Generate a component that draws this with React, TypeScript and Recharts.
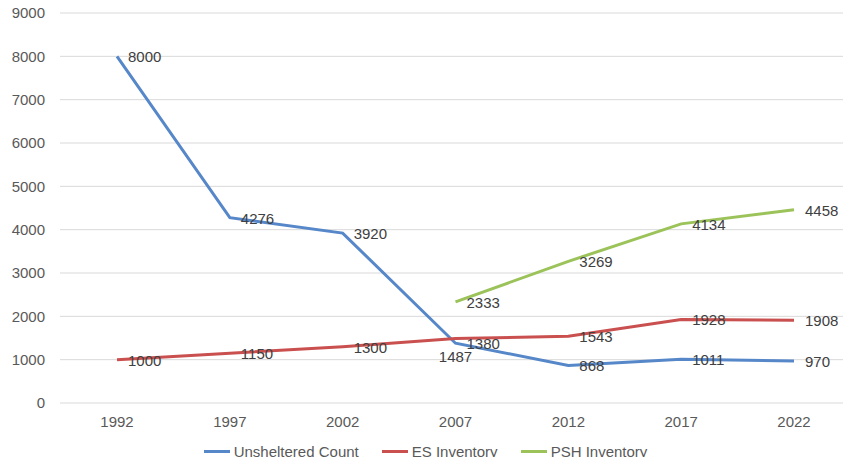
import { CartesianGrid, LabelList, Line, LineChart, XAxis, YAxis } from "recharts";

const years = ["1992", "1997", "2002", "2007", "2012", "2017", "2022"];
const unsheltered = [8000, 4276, 3920, 1380, 868, 1011, 970];
const esInventory = [1000, 1150, 1300, 1487, 1543, 1928, 1908];
const pshInventory = [null, null, null, 2333, 3269, 4134, 4458];
const yTicks = [0, 1000, 2000, 3000, 4000, 5000, 6000, 7000, 8000, 9000];

const series = [
  { key: "unsheltered", name: "Unsheltered Count", color: "#5687c9" },
  { key: "es", name: "ES Inventory", color: "#c9504f" },
  { key: "psh", name: "PSH Inventory", color: "#9bc35a" }
];

const data = years.map((year, i) => ({
  year,
  unsheltered: unsheltered[i],
  es: esInventory[i],
  psh: pshInventory[i]
}));

const font = "'Liberation Sans', Arial, sans-serif";

// labels sit right of the point, except ES 2007 which Excel pushed below
function makeLabel(seriesKey: string) {
  return (props: any) => {
    const { x, y, value, index } = props;
    if (value == null) return null;
    let dx = 11;
    let dy = 2;
    let anchor: "start" | "middle" = "start";
    if (seriesKey === "es" && index === 3) {
      dx = 0;
      dy = 19;
      anchor = "middle";
    }
    return (
      <text
        x={x + dx}
        y={y + dy}
        textAnchor={anchor}
        dominantBaseline="middle"
        fontSize={15}
        fontFamily={font}
        fill="#404040"
      >
        {value}
      </text>
    );
  };
}

export default function App() {
  return (
    <div style={{ margin: -8, background: "#fff", width: 851, height: 465, position: "relative" }}>
      <LineChart
        width={851}
        height={465}
        data={data}
        margin={{ top: 13, right: 0, left: 0, bottom: 32 }}
      >
        <CartesianGrid stroke="#d9d9d9" vertical={false} />
        <XAxis
          dataKey="year"
          height={30}
          padding={{ left: 57, right: 57 }}
          axisLine={false}
          tickLine={false}
          tickMargin={7}
          tick={{ fontSize: 15, fontFamily: font, fill: "#595959" }}
        />
        <YAxis
          width={60}
          domain={[0, 9000]}
          ticks={yTicks}
          axisLine={false}
          tickLine={false}
          tickMargin={9}
          tick={{ fontSize: 15, fontFamily: font, fill: "#595959" }}
        />
        {series.map((s) => (
          <Line
            key={s.key}
            dataKey={s.key}
            name={s.name}
            stroke={s.color}
            strokeWidth={3}
            dot={false}
            activeDot={false}
            type="linear"
            isAnimationActive={false}
          >
            <LabelList dataKey={s.key} content={makeLabel(s.key)} />
          </Line>
        ))}
      </LineChart>
      <div
        style={{
          position: "absolute",
          top: 443,
          left: 0,
          width: 851,
          display: "flex",
          justifyContent: "center",
          gap: 23,
          fontFamily: font,
          fontSize: 15,
          color: "#595959"
        }}
      >
        {series.map((s) => (
          <div key={s.key} style={{ display: "flex", alignItems: "center", gap: 4 }}>
            <span style={{ width: 26, height: 3, background: s.color, display: "inline-block" }} />
            <span>{s.name}</span>
          </div>
        ))}
      </div>
    </div>
  );
}
